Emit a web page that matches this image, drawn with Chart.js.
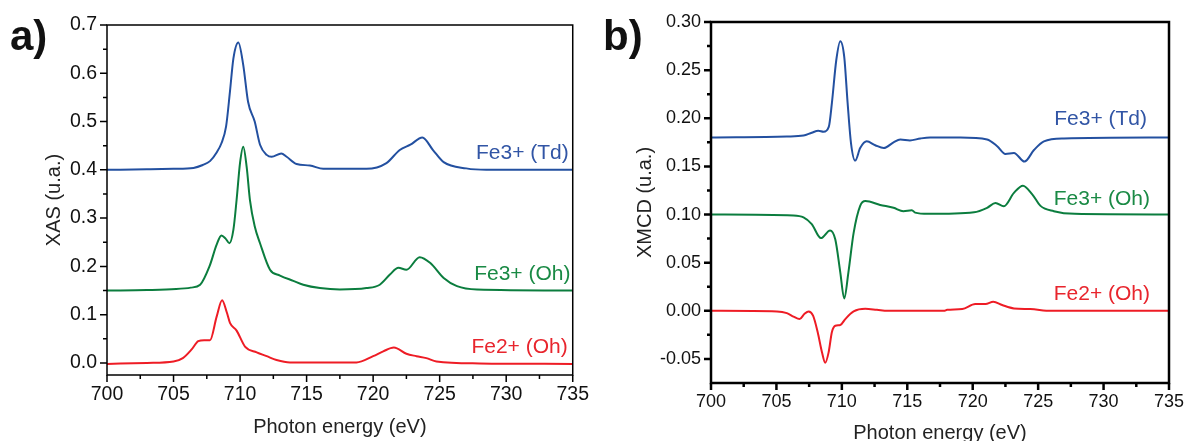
<!DOCTYPE html>
<html>
<head>
<meta charset="utf-8">
<title>Fe L-edge XAS / XMCD</title>
<script src="https://cdn.jsdelivr.net/npm/chart.js@4.4.1/dist/chart.umd.min.js"></script>
<style>
    html, body { margin: 0; padding: 0; background: #fff; overflow: hidden; }
    #wrap { position: relative; width: 1187px; height: 441px; }
    canvas { position: absolute; top: 0; }
    #chartA { left: 0; }
    #chartB { left: 590px; }
    .panel-tag {
        position: absolute;
        top: 15px;
        font: bold 42px "Liberation Sans", Arial, sans-serif;
        line-height: 42px;
        color: #111;
    }
</style>
</head>
<body>
<div id="wrap">
    <canvas id="chartA" width="590" height="441"></canvas>
    <canvas id="chartB" width="597" height="441"></canvas>
    <div class="panel-tag" style="left:10px;">a)</div>
    <div class="panel-tag" style="left:603px;">b)</div>
</div>
<script>
// ---- Panel a) XAS ----
const xasTdE = [700, 703, 705, 706.5, 707.2, 707.74, 708.24, 708.6, 708.95, 709.24, 709.5, 709.87, 710.24, 710.6, 711.1, 711.5, 712.0, 712.37, 713.1, 713.5, 714.25, 715.25, 716.25, 719.5, 721.0, 722.0, 722.8, 723.7, 724.5, 725.3, 727.0, 728.5, 735];
const xasTdV = [0.400, 0.401, 0.402, 0.404, 0.410, 0.418, 0.436, 0.455, 0.490, 0.562, 0.631, 0.664, 0.617, 0.541, 0.500, 0.452, 0.431, 0.427, 0.434, 0.427, 0.412, 0.409, 0.402, 0.402, 0.414, 0.441, 0.452, 0.467, 0.441, 0.416, 0.403, 0.400, 0.400];

const xasOhE = [700, 703, 705.2, 706.3, 707.0, 707.7, 708.24, 708.6, 708.9, 709.2, 709.5, 709.74, 710.0, 710.24, 710.5, 710.74, 711.1, 711.5, 712.25, 713.0, 714.0, 714.75, 716.0, 717.5, 719.5, 720.5, 721.26, 721.9, 722.5, 723.5, 724.3, 725.3, 726.3, 727.8, 735];
const xasOhV = [0.150, 0.151, 0.153, 0.156, 0.162, 0.200, 0.245, 0.264, 0.258, 0.248, 0.276, 0.338, 0.415, 0.448, 0.405, 0.338, 0.283, 0.248, 0.193, 0.181, 0.170, 0.162, 0.155, 0.152, 0.155, 0.162, 0.183, 0.197, 0.193, 0.219, 0.207, 0.176, 0.159, 0.152, 0.150];

const xasFe2E = [700, 703, 705.0, 705.7, 706.36, 706.86, 707.3, 707.74, 708.24, 708.65, 709.0, 709.24, 709.74, 710.37, 711.25, 712.0, 712.74, 713.75, 718.75, 720.0, 720.76, 721.56, 722.5, 723.26, 724.0, 724.76, 728.0, 735];
const xasFe2V = [-0.002, 0.000, 0.003, 0.010, 0.028, 0.045, 0.047, 0.047, 0.096, 0.130, 0.105, 0.083, 0.067, 0.034, 0.022, 0.014, 0.006, 0.001, 0.001, 0.014, 0.024, 0.032, 0.019, 0.014, 0.010, 0.003, -0.001, -0.002];

// ---- Panel b) XMCD ----
const xmcdTdE = [700, 705.8, 707.07, 707.7, 708.2, 708.6, 709.0, 709.24, 709.57, 709.88, 710.18, 710.44, 710.7, 711.02, 711.4, 711.9, 712.55, 713.2, 713.95, 714.46, 715.2, 716.0, 716.75, 719.07, 721.1, 721.87, 722.5, 723.15, 723.96, 724.68, 725.44, 726.97, 735];
const xmcdTdV = [0.180, 0.181, 0.182, 0.185, 0.187, 0.186, 0.191, 0.216, 0.260, 0.280, 0.264, 0.216, 0.174, 0.156, 0.169, 0.176, 0.172, 0.169, 0.175, 0.178, 0.177, 0.179, 0.180, 0.180, 0.178, 0.171, 0.163, 0.164, 0.155, 0.167, 0.176, 0.179, 0.180];

const xmcdOhE = [700, 706.3, 707.07, 707.7, 708.4, 709.1, 709.5, 709.88, 710.18, 710.5, 710.9, 711.4, 711.8, 712.93, 713.95, 714.7, 715.35, 715.6, 716.6, 720.1, 721.1, 721.74, 722.38, 723.15, 723.84, 724.55, 725.18, 726.2, 727.8, 735];
const xmcdOhV = [0.100, 0.099, 0.097, 0.090, 0.0755, 0.0835, 0.074, 0.040, 0.0128, 0.040, 0.081, 0.109, 0.114, 0.110, 0.107, 0.1035, 0.1045, 0.102, 0.1007, 0.1024, 0.107, 0.112, 0.1086, 0.1225, 0.130, 0.121, 0.109, 0.1035, 0.1007, 0.100];

const xmcdFe2E = [700, 705.04, 705.8, 706.3, 706.77, 707.13, 707.46, 707.8, 708.15, 708.48, 708.73, 708.99, 709.24, 709.5, 709.88, 710.26, 710.9, 711.79, 712.68, 713.5, 717.8, 718.05, 719.2, 720.2, 720.98, 721.57, 722.25, 723.15, 724.4, 726, 735];
const xmcdFe2V = [0, -0.0006, -0.0024, -0.006, -0.0086, -0.0034, -0.0007, -0.005, -0.022, -0.043, -0.054, -0.043, -0.022, -0.0155, -0.0148, -0.0086, -0.0007, 0.002, 0.001, 0, 0, 0.001, 0.0018, 0.007, 0.007, 0.0093, 0.006, 0.0025, 0.0018, 0, 0];

// Tick values (major)
const energyTicks = [700, 705, 710, 715, 720, 725, 730, 735];
const xasTicks = [0.0, 0.1, 0.2, 0.3, 0.4, 0.5, 0.6, 0.7];
const xmcdTicks = [-0.05, 0.00, 0.05, 0.10, 0.15, 0.20, 0.25, 0.30];

// Series names + where their labels sit (data units, right-aligned)
const seriesNames = ['Fe3+ (Td)', 'Fe3+ (Oh)', 'Fe2+ (Oh)'];
const xasLabelE = [734.70, 734.83, 734.62];
const xasLabelV = [0.4337, 0.1848, 0.0317];
const xmcdLabelE = [733.32, 733.55, 733.55];
const xmcdLabelV = [0.1992, 0.1161, 0.0175];

const lineColors = ['#2350a0', '#0b7d3e', '#ee1c25'];
const textColors = ['#3155a5', '#1a8a45', '#e8252d'];
const FONT = '"Liberation Sans", Arial, sans-serif';

function pairs(xs, ys) {
    return xs.map((x, i) => ({ x: x, y: ys[i] }));
}

function midpoints(vals) {
    const out = [];
    for (let i = 0; i < vals.length - 1; i++) out.push((vals[i] + vals[i + 1]) / 2);
    return out;
}

// Box frame, outward major/minor ticks and the in-plot series labels
const frameTicks = {
    id: 'frameTicks',
    afterDatasetsDraw(chart, args, opts) {
        const { ctx, chartArea: a, scales: { x, y } } = chart;
        ctx.save();
        ctx.strokeStyle = '#000';
        ctx.lineWidth = opts.lineWidth;
        ctx.strokeRect(a.left, a.top, a.right - a.left, a.bottom - a.top);

        ctx.beginPath();
        const xMaj = x.ticks.map(t => t.value);
        const yMaj = y.ticks.map(t => t.value);
        xMaj.forEach(v => {
            const p = x.getPixelForValue(v);
            ctx.moveTo(p, a.bottom); ctx.lineTo(p, a.bottom + opts.major);
        });
        midpoints(xMaj).forEach(v => {
            const p = x.getPixelForValue(v);
            ctx.moveTo(p, a.bottom); ctx.lineTo(p, a.bottom + opts.minor);
        });
        yMaj.forEach(v => {
            const p = y.getPixelForValue(v);
            ctx.moveTo(a.left, p); ctx.lineTo(a.left - opts.major, p);
        });
        midpoints(yMaj).forEach(v => {
            const p = y.getPixelForValue(v);
            ctx.moveTo(a.left, p); ctx.lineTo(a.left - opts.minor, p);
        });
        ctx.stroke();

        ctx.font = `21px ${FONT}`;
        ctx.textAlign = 'right';
        ctx.textBaseline = 'middle';
        seriesNames.forEach((name, i) => {
            ctx.fillStyle = textColors[i];
            ctx.fillText(name, x.getPixelForValue(opts.labelE[i]), y.getPixelForValue(opts.labelV[i]));
        });
        ctx.restore();
    }
};

function makeChart(canvasId, p) {
    const datasets = p.series.map((s, i) => ({
        data: pairs(s[0], s[1]),
        borderColor: lineColors[i],
        borderWidth: 2,
        pointRadius: 0,
        cubicInterpolationMode: 'monotone',
        fill: false
    }));

    return new Chart(document.getElementById(canvasId), {
        type: 'line',
        data: { datasets: datasets },
        plugins: [frameTicks],
        options: {
            responsive: false,
            animation: false,
            layout: { padding: p.padding },
            plugins: {
                legend: { display: false },
                tooltip: { enabled: false },
                frameTicks: {
                    lineWidth: p.axisWidth,
                    major: 7,
                    minor: 4,
                    labelE: p.labelE,
                    labelV: p.labelV
                }
            },
            scales: {
                x: {
                    type: 'linear',
                    min: 700,
                    max: 735,
                    afterBuildTicks: s => { s.ticks = energyTicks.map(v => ({ value: v })); },
                    afterFit: s => { s.height = p.xHeight; },
                    grid: { drawOnChartArea: false, color: 'transparent', tickLength: 7 },
                    border: { display: false },
                    ticks: {
                        padding: 1,
                        autoSkip: false,
                        maxRotation: 0,
                        color: '#111',
                        font: { family: FONT, size: p.tickSize },
                        callback: v => String(v)
                    },
                    title: {
                        display: true,
                        text: 'Photon energy (eV)',
                        color: '#222',
                        font: { family: FONT, size: 20, lineHeight: p.xTitleLH },
                        padding: { bottom: p.xTitlePad }
                    }
                },
                y: {
                    type: 'linear',
                    min: p.yMin,
                    max: p.yMax,
                    afterBuildTicks: s => { s.ticks = p.yTicks.map(v => ({ value: v })); },
                    afterFit: s => { s.width = p.yWidth; },
                    grid: { drawOnChartArea: false, color: 'transparent', tickLength: 7 },
                    border: { display: false },
                    ticks: {
                        padding: 3,
                        autoSkip: false,
                        color: '#111',
                        font: { family: FONT, size: p.tickSize },
                        callback: v => Number(v).toFixed(p.yDecimals)
                    },
                    title: {
                        display: true,
                        text: p.yTitle,
                        color: '#222',
                        font: { family: FONT, size: 20 },
                        padding: { top: p.yTitlePad }
                    }
                }
            }
        }
    });
}

document.addEventListener('DOMContentLoaded', () => {
    makeChart('chartA', {
        series: [[xasTdE, xasTdV], [xasOhE, xasOhV], [xasFe2E, xasFe2V]],
        yMin: -0.025, yMax: 0.7, yTicks: xasTicks, yDecimals: 1,
        yTitle: 'XAS (u.a.)',
        padding: { left: 0, right: 17, top: 25, bottom: 0 },
        yWidth: 107, xHeight: 66,
        axisWidth: 1.5, tickSize: 19.5,
        yTitlePad: 42, xTitlePad: 2, xTitleLH: 1.2,
        labelE: xasLabelE, labelV: xasLabelV
    });

    makeChart('chartB', {
        series: [[xmcdTdE, xmcdTdV], [xmcdOhE, xmcdOhV], [xmcdFe2E, xmcdFe2V]],
        yMin: -0.075, yMax: 0.30, yTicks: xmcdTicks, yDecimals: 2,
        yTitle: 'XMCD (u.a.)',
        padding: { left: 0, right: 18, top: 22, bottom: 0 },
        yWidth: 121, xHeight: 58,
        axisWidth: 2.5, tickSize: 18,
        yTitlePad: 43, xTitlePad: 0, xTitleLH: 0.8,
        labelE: xmcdLabelE, labelV: xmcdLabelV
    });
});
</script>
</body>
</html>
